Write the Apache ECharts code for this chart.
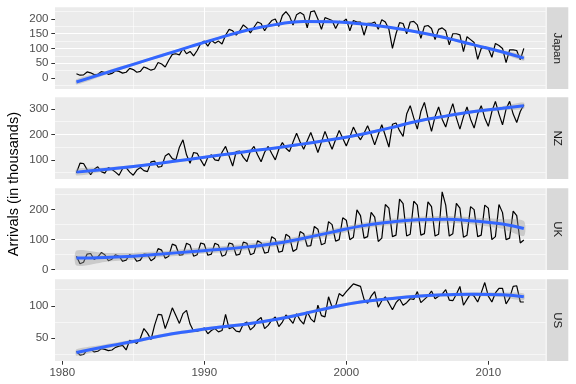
<!DOCTYPE html>
<html><head><meta charset="utf-8">
<script src="https://cdn.jsdelivr.net/npm/echarts@6/dist/echarts.min.js"></script>
<style>html,body{margin:0;padding:0;background:#fff}#c{width:576px;height:384px}</style>
</head><body><div id="c"></div>
<script>
// Quarterly arrivals (thousands), 1981 Q1 .. 2012 Q3
const startYear = 1981;
const japan = [
 14, 9, 10, 20,  17, 11, 12, 21,  18, 12, 15, 24,  22, 16, 19, 32,
 28, 19, 22, 37,  32, 26, 30, 52,  47, 37, 60, 80,  82, 78, 100, 82,
 90, 75, 93, 117,  125, 108, 128, 118,  125, 115, 145, 165,  160, 145, 160, 180,
 170, 153, 172, 190,  185, 160, 180, 195,  200, 175, 212, 225,  210, 180, 215, 222,
 215, 170, 225, 228,  200, 165, 205, 200,  195, 168, 192, 190,  200, 160, 195, 190,
 190, 145, 185, 185,  190, 165, 198, 190,  165, 100, 150, 188,  185, 150, 190, 192,
 180, 134, 175, 178,  168, 130, 165, 170,  160, 112, 150, 150,  146, 89, 140, 130,
 120, 63, 100, 106,  100, 70, 117, 110,  100, 52, 95, 95,  93, 61, 100
];
const nz = [
 49, 87, 86, 62,  42, 63, 73, 54,  48, 70, 62, 52,  40, 66, 70, 52,
 40, 60, 70, 58,  54, 92, 95, 72,  74, 115, 125, 105,  100, 150, 179, 120,
 87, 129, 126, 100,  76, 110, 120, 100,  97, 130, 153, 115,  76, 133, 135, 110,
 93, 135, 153, 120,  93, 130, 153, 125,  100, 142, 168, 146,  133, 170, 205, 170,
 142, 175, 208, 170,  129, 170, 212, 175,  142, 180, 216, 185,  155, 190, 229, 200,
 179, 205, 234, 200,  159, 200, 238, 195,  150, 240, 245, 215,  192, 280, 313, 265,
 221, 290, 326, 265,  212, 270, 308, 260,  229, 280, 321, 265,  221, 270, 308, 260,
 225, 280, 313, 265,  232, 290, 330, 280,  238, 300, 330, 280,  247, 290, 317
];
const uk = [
 45, 20, 25, 52,  54, 34, 42, 57,  50, 30, 35, 50,  45, 28, 32, 50,
 45, 28, 32, 52,  50, 30, 38, 70,  65, 38, 45, 85,  80, 48, 50, 88,
 82, 45, 50, 89,  85, 48, 52, 88,  82, 45, 50, 89,  85, 48, 52, 92,
 88, 50, 55, 96,  90, 55, 58, 110,  102, 58, 62, 118,  110, 61, 68, 127,
 120, 78, 80, 144,  135, 83, 88, 160,  150, 95, 100, 173,  165, 100, 108, 199,
 180, 105, 110, 191,  175, 94, 105, 217,  205, 110, 115, 235,  220, 112, 118, 228,
 215, 115, 120, 226,  210, 112, 118, 259,  215, 112, 120, 221,  205, 108, 115, 210,
 200, 110, 115, 215,  205, 100, 110, 217,  190, 100, 105, 195,  180, 89, 99
];
const us = [
 30, 24, 25, 32,  33, 29, 30, 34,  33, 31, 32, 36,  38, 39, 32, 47,
 45, 42, 50, 65,  58, 48, 70, 87,  86, 65, 80, 97,  85, 73, 88, 93,
 72, 61, 61, 63,  66, 57, 62, 65,  60, 62, 87, 65,  67, 61, 60, 72,
 75, 63, 68, 78,  82, 65, 70, 78,  83, 68, 75, 86,  80, 73, 88, 78,
 72, 91, 80, 75,  101, 85, 83, 114,  98, 100, 119, 115,  122, 128, 134, 132,
 130, 110, 104, 115,  122, 98, 108, 114,  104, 94, 105, 111,  101, 105, 111, 110,
 122, 105, 110, 115,  123, 111, 115, 118,  125, 109, 108, 118,  130, 101, 110, 119,
 115, 106, 120, 136,  115, 106, 120, 127,  127, 103, 112, 130,  131, 106, 106
];

// Smoothed trend (loess) and half-width of its confidence band
const smoothYears = [1981, 1983, 1985, 1987, 1989, 1991, 1993, 1995, 1997, 1999, 2001, 2003, 2005, 2007, 2009, 2011, 2012.5];
const japanSmooth = [-14, 16, 46, 76, 106, 135, 162, 181, 192, 191, 184, 172, 156, 136, 112, 88, 67];
const nzSmooth    = [52, 62, 74, 88, 103, 118, 133, 147, 163, 180, 200, 225, 252, 272, 290, 303, 313];
const ukSmooth    = [39, 41, 45, 52, 60, 67, 76, 87, 105, 125, 145, 158, 166, 168, 162, 152, 137];
const usSmooth    = [28, 37, 45, 54, 61, 67, 72, 79, 88, 98, 106, 111, 115, 117, 118, 117, 114];
const japanBand = [9, 6, 5, 4, 4, 4, 4, 4, 4, 4, 4, 4, 4, 4, 5, 6, 9];
const nzBand    = [13, 8, 6, 5, 5, 5, 5, 5, 5, 5, 5, 5, 5, 5, 6, 8, 12];
const ukBand    = [25, 15, 11, 10, 10, 10, 10, 10, 10, 10, 10, 10, 10, 11, 12, 16, 25];
const usBand    = [5, 3.5, 3, 2.5, 2.5, 2.5, 2.5, 2.5, 2.5, 2.5, 2.5, 2.5, 2.5, 2.5, 3, 3.5, 5];

const panelNames = ['Japan', 'NZ', 'UK', 'US'];
const xTickLabels = [1980, 1990, 2000, 2010];
const yTickLabels = [[0, 50, 100, 150, 200], [100, 200, 300], [0, 100, 200], [50, 100]];
const yLimits = [[-38, 240], [25, 346], [-1, 271], [15, 141]];
const yIntervals = [50, 100, 100, 50];
const xLimits = [1979.49, 2014.04];
const yTitle = 'Arrivals (in thousands)';

const seriesValues = [japan, nz, uk, us];
const smoothValues = [japanSmooth, nzSmooth, ukSmooth, usSmooth];
const bandValues = [japanBand, nzBand, ukBand, usBand];

// Layout
const W = 576, H = 384;
const gridLeft = 55, gridRight = 30.3;
const panelTops = [7.3, 97.3, 188.3, 279.3];
const panelH = 81.7;
const FONT = '"Liberation Sans", Arial, Helvetica, sans-serif';

const times = japan.map((_, i) => startYear + i / 4);

const grids = [], xAxes = [], yAxes = [], series = [], graphics = [];
panelNames.forEach((name, k) => {
  const last = k === panelNames.length - 1;
  grids.push({left: gridLeft, right: gridRight, top: panelTops[k], height: panelH,
    show: true, backgroundColor: '#EBEBEB', borderWidth: 0, containLabel: false});
  xAxes.push({type: 'value', gridIndex: k, min: xLimits[0], max: xLimits[1],
    minInterval: 10, maxInterval: 10,
    axisLine: {show: false},
    axisTick: {show: last, length: 3.7, lineStyle: {color: '#333333', width: 1}, customValues: xTickLabels},
    axisLabel: {show: last, color: '#4D4D4D', fontSize: 11.5, fontFamily: FONT, margin: 5.5,
      customValues: xTickLabels, formatter: v => String(v)},
    splitLine: {show: true, showMinLine: false, showMaxLine: false, lineStyle: {color: '#FFFFFF', width: 1.1}},
    minorTick: {show: false, splitNumber: 2},
    minorSplitLine: {show: true, lineStyle: {color: '#FFFFFF', width: 0.55}}
  });
  yAxes.push({type: 'value', gridIndex: k, min: yLimits[k][0], max: yLimits[k][1],
    minInterval: yIntervals[k], maxInterval: yIntervals[k],
    axisLine: {show: false},
    axisTick: {show: true, length: 3.7, lineStyle: {color: '#333333', width: 1}, customValues: yTickLabels[k]},
    axisLabel: {show: true, color: '#4D4D4D', fontSize: 11.5, fontFamily: FONT, margin: 6.5,
      customValues: yTickLabels[k], formatter: v => String(v)},
    splitLine: {show: true, showMinLine: false, showMaxLine: false, lineStyle: {color: '#FFFFFF', width: 1.1}},
    minorTick: {show: false, splitNumber: 2},
    minorSplitLine: {show: true, lineStyle: {color: '#FFFFFF', width: 0.55}}
  });
  const vals = seriesValues[k], sm = smoothValues[k], bw = bandValues[k];
  series.push({type: 'line', xAxisIndex: k, yAxisIndex: k, symbol: 'none', silent: true,
    data: times.map((t, i) => [t, vals[i]]), lineStyle: {color: '#000000', width: 1.2}, z: 2});
  // confidence band: polygon through upper and lower bounds, positioned by the axes
  series.push({type: 'custom', xAxisIndex: k, yAxisIndex: k, silent: true, z: 3,
    data: smoothYears.map((t, i) => [t, sm[i] - bw[i], sm[i] + bw[i]]),
    encode: {x: 0, y: [1, 2]},
    renderItem: (params, api) => {
      if (params.dataIndex !== 0) return null;
      const up = smoothYears.map((t, i) => api.coord([t, sm[i] + bw[i]]));
      const lo = smoothYears.map((t, i) => api.coord([t, sm[i] - bw[i]])).reverse();
      return {type: 'polygon', shape: {points: up.concat(lo), smooth: 0.25},
        style: {fill: 'rgba(153,153,153,0.4)', stroke: null}};
    }});
  series.push({type: 'line', xAxisIndex: k, yAxisIndex: k, symbol: 'none', silent: true, smooth: true,
    data: smoothYears.map((t, i) => [t, sm[i]]), lineStyle: {color: '#3366FF', width: 3}, z: 4});
  // facet strip
  const sx = W - gridRight + 1;
  graphics.push({type: 'rect', shape: {x: sx, y: panelTops[k], width: 21.6, height: panelH},
    style: {fill: '#D9D9D9'}, silent: true});
  graphics.push({type: 'text', x: sx + 10.8, y: panelTops[k] + panelH / 2, rotation: -Math.PI / 2,
    style: {text: name, fill: '#1A1A1A', font: '11.5px ' + FONT, align: 'center', verticalAlign: 'middle'}, silent: true});
});
graphics.push({type: 'text', x: 14, y: (panelTops[0] + panelTops[3] + panelH) / 2, rotation: Math.PI / 2,
  style: {text: yTitle, fill: '#000000', font: '14.5px ' + FONT, align: 'center', verticalAlign: 'middle'}, silent: true});

const chart = echarts.init(document.getElementById('c'), null, {renderer: 'canvas', width: W, height: H});
chart.setOption({
  animation: false,
  backgroundColor: '#FFFFFF',
  grid: grids, xAxis: xAxes, yAxis: yAxes, series: series,
  graphic: {elements: graphics}
});
</script></body></html>
